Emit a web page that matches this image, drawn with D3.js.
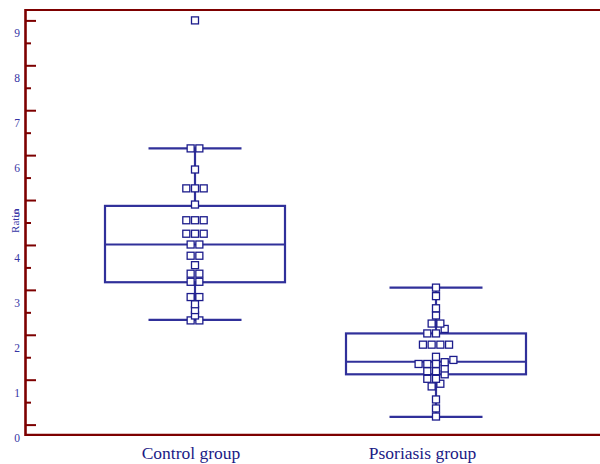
<!DOCTYPE html>
<html>
<head>
<meta charset="utf-8">
<script src="https://cdn.jsdelivr.net/npm/d3@7"></script>
<style>
  html, body { margin: 0; padding: 0; background: #ffffff; }
  svg { display: block; }
</style>
</head>
<body>
<svg id="chart" width="600" height="464"></svg>
<script>
// ---- data ----
const categories = ["Control group", "Psoriasis group"];
const controlValues = [2.32, 2.32, 2.43, 2.55, 2.68, 2.84, 2.84, 3.18, 3.18, 3.36, 3.36, 3.55,
  3.76, 3.76, 4.01, 4.01, 4.25, 4.25, 4.25, 4.55, 4.55, 4.55, 4.90, 5.26, 5.26, 5.26, 5.68,
  6.15, 6.15, 9.0];
const psoriasisValues = [0.18, 0.36, 0.56, 0.85, 0.91, 1.02, 1.02, 1.12, 1.19, 1.19, 1.25,
  1.35, 1.35, 1.35, 1.39, 1.44, 1.51, 1.78, 1.78, 1.78, 1.78, 2.03, 2.03, 2.13, 2.25, 2.25,
  2.43, 2.59, 2.86, 3.05];
const whiskerLow  = [2.33, 0.17];
const quartile1   = [3.17, 1.12];
const medians     = [4.01, 1.40];
const quartile3   = [4.87, 2.03];
const whiskerHigh = [6.15, 3.05];
const yTickValues = [0, 1, 2, 3, 4, 5, 6, 7, 8, 9];
const yMinorTicks = [0.5, 1.5, 2.5, 3.5, 4.5, 5.5, 6.5, 7.5, 8.5];
const yTitle = "Ratio";

const groups = [controlValues, psoriasisValues];

// ---- styling ----
const axisColor = "#7d0000";
const boxColor = "#30309a";
const pointColor = "#1c1c8c";
const labelColor = "#3535a5";
const catColor = "#1a1a85";
const serif = "'Liberation Serif', 'Times New Roman', Times, serif";

const svg = d3.select("#chart");

const x = d3.scalePoint().domain(categories).range([74.5, 556.5]).padding(0.5);
// category captions sit slightly left of the box centres in the original
const xLabel = d3.scalePoint().domain(categories).range([190.5, 422]);
const y = d3.scaleLinear().domain([-0.227, 9.227]).range([434.8, 10.2]);

const left = 25.5, right = 600;

// ---- boxes ----
const boxHalf = 90, capHalf = 46.5;
const boxG = svg.append("g")
  .attr("fill", "none")
  .attr("stroke", boxColor)
  .attr("stroke-width", 2.2);

categories.forEach((c, i) => {
  const cx = x(c);
  boxG.append("line").attr("x1", cx).attr("x2", cx)
    .attr("y1", y(whiskerLow[i])).attr("y2", y(quartile1[i]));
  boxG.append("line").attr("x1", cx).attr("x2", cx)
    .attr("y1", y(quartile3[i])).attr("y2", y(whiskerHigh[i]));
  boxG.append("line").attr("x1", cx - capHalf).attr("x2", cx + capHalf)
    .attr("y1", y(whiskerLow[i])).attr("y2", y(whiskerLow[i]));
  boxG.append("line").attr("x1", cx - capHalf).attr("x2", cx + capHalf)
    .attr("y1", y(whiskerHigh[i])).attr("y2", y(whiskerHigh[i]));
  boxG.append("rect")
    .attr("x", cx - boxHalf).attr("width", 2 * boxHalf)
    .attr("y", y(quartile3[i])).attr("height", y(quartile1[i]) - y(quartile3[i]));
  boxG.append("line").attr("x1", cx - boxHalf).attr("x2", cx + boxHalf)
    .attr("y1", y(medians[i])).attr("y2", y(medians[i]));
});

// ---- points (binned dot layout: equal-bin points placed side by side) ----
const binSize = 1 / 6, step = 8.7, markerSize = 7;
const pointsG = svg.append("g");
groups.forEach((vals, i) => {
  const cx = x(categories[i]);
  const bins = d3.groups(vals.slice().sort(d3.ascending), v => Math.floor(v / binSize + 1e-9));
  const placed = [];
  bins.forEach(([, arr]) => {
    arr.forEach((v, j) => placed.push({ v, dx: (j - (arr.length - 1) / 2) * step }));
  });
  pointsG.selectAll(null)
    .data(placed)
    .enter().append("rect")
    .attr("x", d => cx + d.dx - markerSize / 2)
    .attr("y", d => y(d.v) - markerSize / 2)
    .attr("width", markerSize)
    .attr("height", markerSize)
    .attr("fill", "#ffffff")
    .attr("stroke", pointColor)
    .attr("stroke-width", 1.3);
});

// ---- frame lines ----
svg.append("line").attr("x1", left).attr("x2", right)
  .attr("y1", 10).attr("y2", 10)
  .attr("stroke", axisColor).attr("stroke-width", 2.2);
svg.append("line").attr("x1", left).attr("x2", right)
  .attr("y1", y.range()[0]).attr("y2", y.range()[0])
  .attr("stroke", axisColor).attr("stroke-width", 2.2);

// ---- y axis: ticks pointing inward ----
const majorAxis = d3.axisRight(y).tickValues(yTickValues).tickSize(10.5).tickFormat("");
const minorAxis = d3.axisRight(y).tickValues(yMinorTicks).tickSize(5.5).tickFormat("");
[majorAxis, minorAxis].forEach(ax => {
  const g = svg.append("g").attr("transform", `translate(${left},0)`).call(ax);
  g.select(".domain").remove();
  g.selectAll(".tick line").attr("stroke", axisColor).attr("stroke-width", 2);
});
svg.append("line").attr("x1", left).attr("x2", left)
  .attr("y1", 9).attr("y2", y.range()[0] + 1.1)
  .attr("stroke", axisColor).attr("stroke-width", 2.6);

// labels
const labelAxis = d3.axisLeft(y).tickValues(yTickValues).tickSize(0).tickPadding(5.5).tickFormat(d3.format("d"));
const lg = svg.append("g").attr("transform", `translate(${left},0)`).call(labelAxis);
lg.select(".domain").remove();
lg.selectAll(".tick text")
  .attr("dy", 16.5)
  .attr("fill", labelColor)
  .style("font-family", serif)
  .style("font-size", "11.5px");

// y title
svg.append("text")
  .attr("transform", "translate(18.5,221) rotate(-90)")
  .attr("text-anchor", "middle")
  .attr("fill", labelColor)
  .style("font-family", serif)
  .style("font-size", "11px")
  .text(yTitle);

// ---- x axis labels ----
const xAxis = d3.axisBottom(xLabel).tickSize(0).tickPadding(11.5);
const xg = svg.append("g").attr("transform", `translate(0,${y.range()[0]})`).call(xAxis);
xg.select(".domain").remove();
xg.selectAll(".tick text")
  .attr("fill", catColor)
  .style("font-family", serif)
  .style("font-size", "17.5px");
</script>
</body>
</html>
